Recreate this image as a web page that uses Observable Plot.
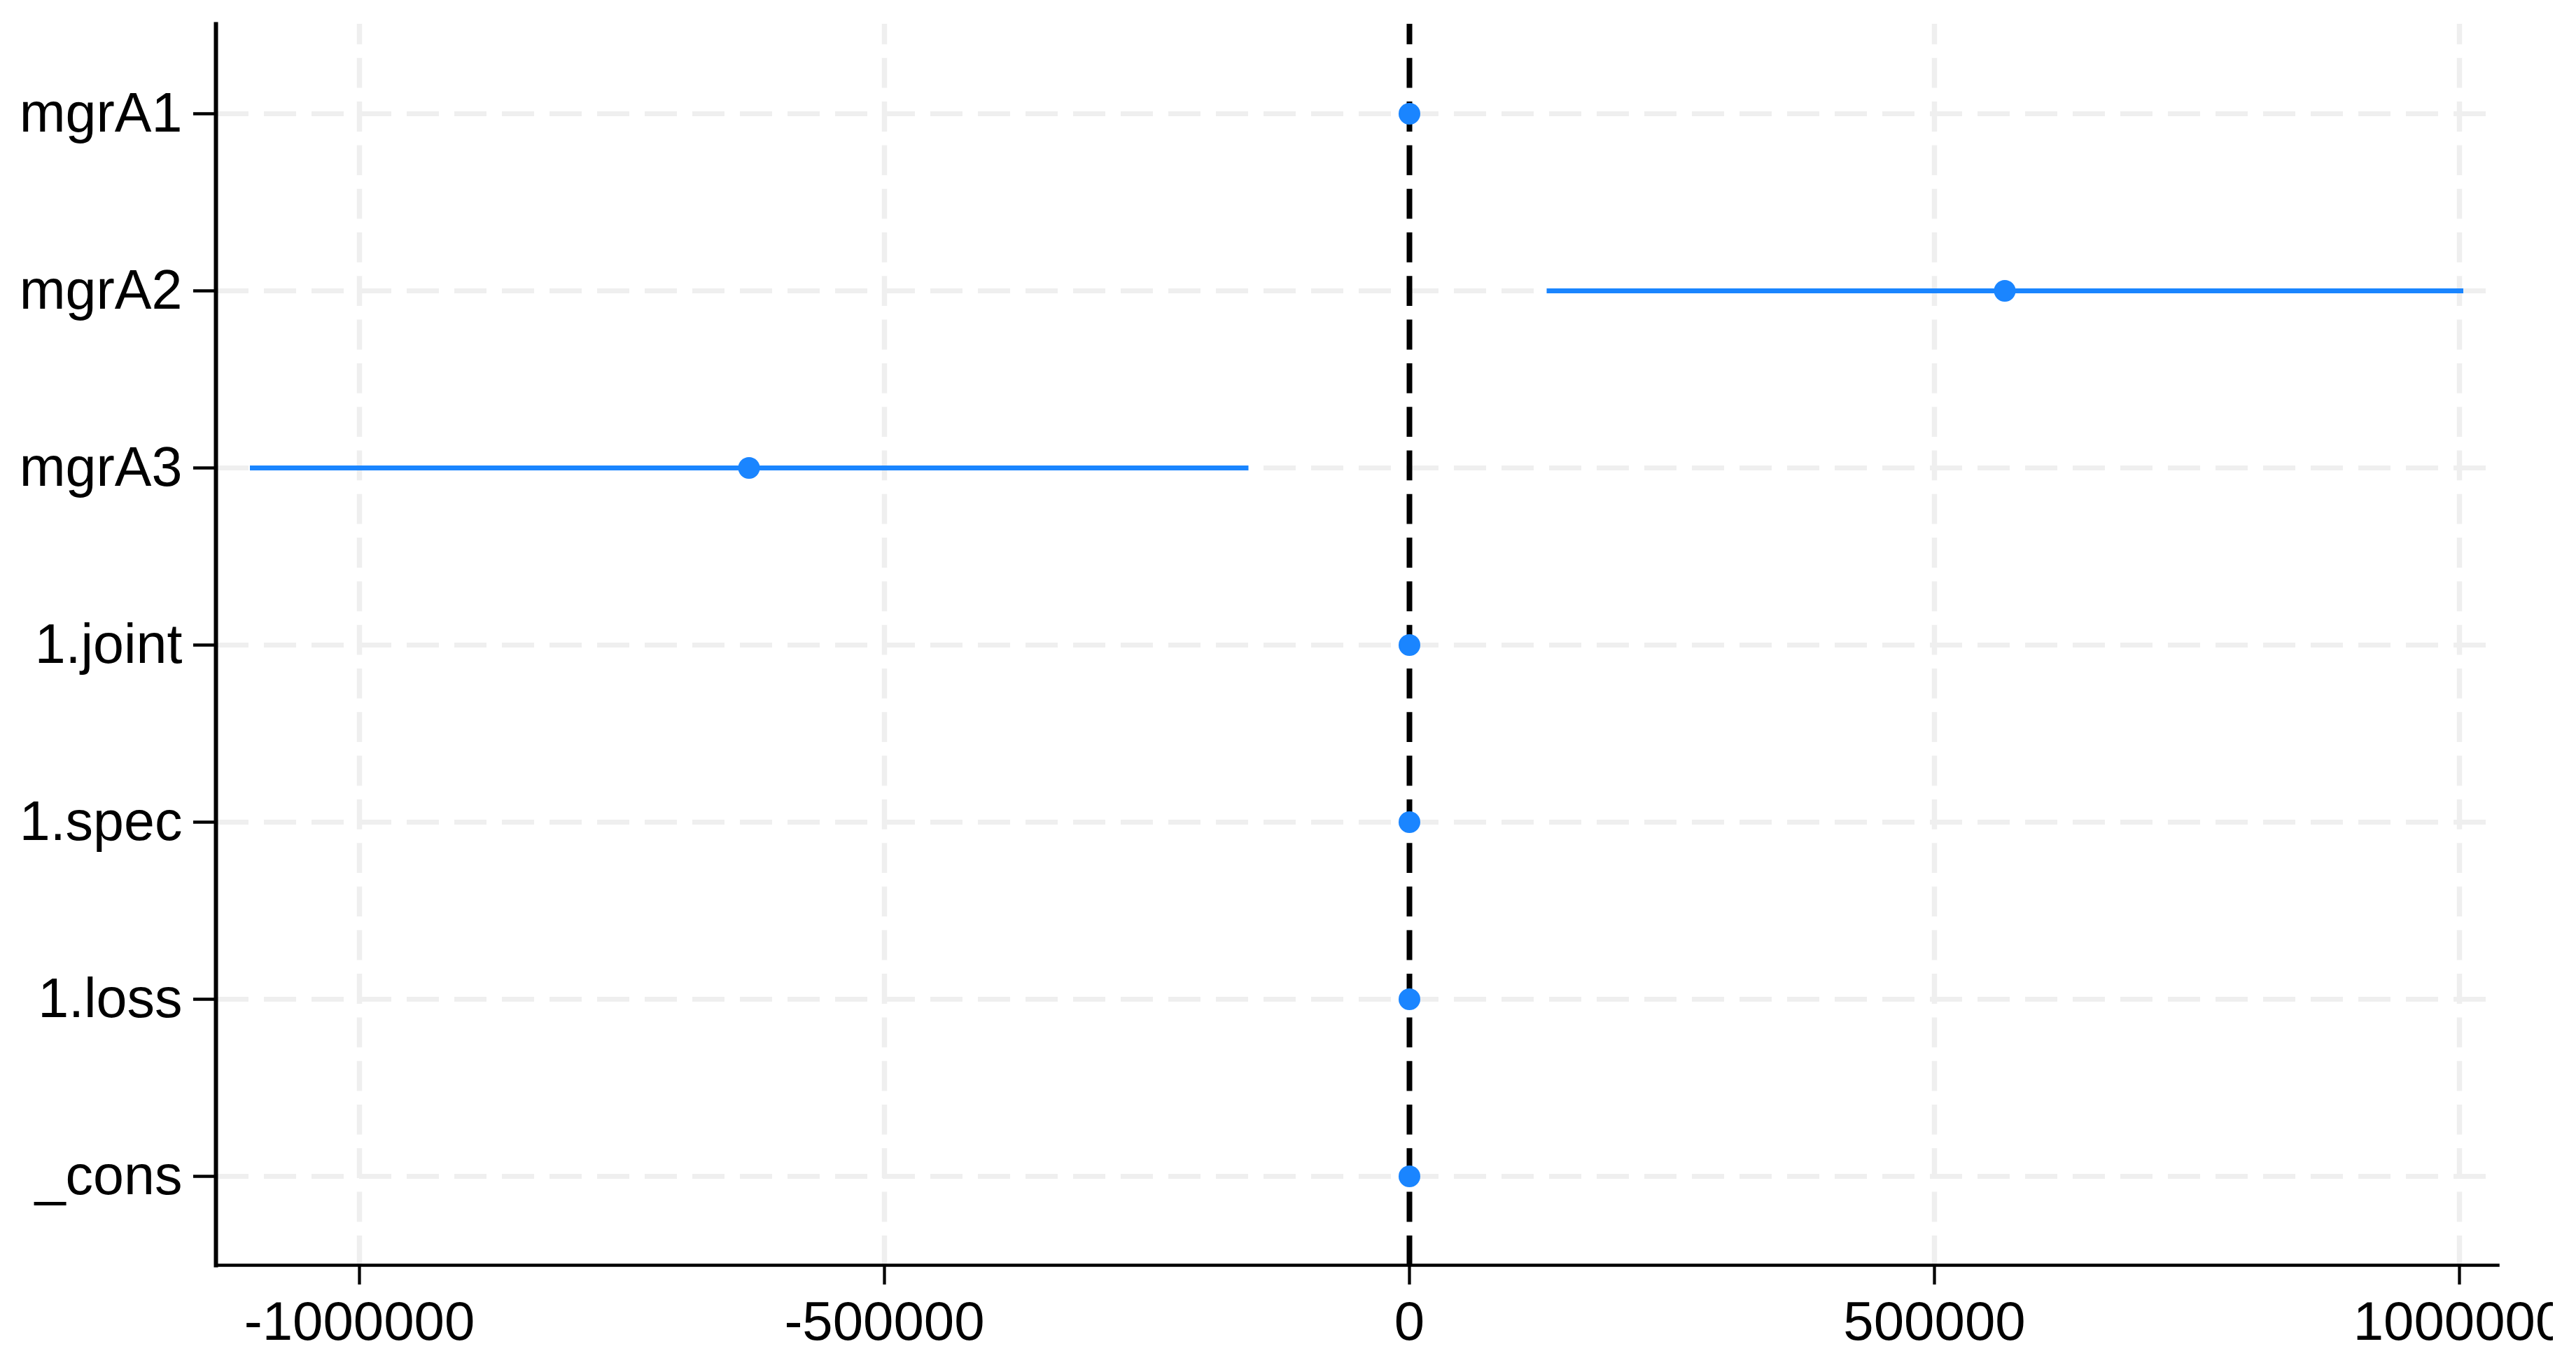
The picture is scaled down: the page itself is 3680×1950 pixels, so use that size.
<!DOCTYPE html>
<html>
<head>
<meta charset="utf-8">
<script src="https://cdn.jsdelivr.net/npm/d3@7"></script>
<script src="https://cdn.jsdelivr.net/npm/@observablehq/plot@0.6"></script>
<style>
  html, body { margin: 0; padding: 0; background: #ffffff; }
  #chart svg { display: block; }
</style>
</head>
<body>
<div id="chart"></div>
<script>
// Coefficient plot data
const terms = ["mgrA1", "mgrA2", "mgrA3", "1.joint", "1.spec", "1.loss", "_cons"];
const coef  = [0, 567000, -629000, 0, 0, 0, 0];
const ciLow = [0, 131000, -1104000, 0, 0, 0, 0];
const ciHigh = [0, 1004000, -153000, 0, 0, 0, 0];
const xTicks = [-1000000, -500000, 0, 500000, 1000000];
const xGridTicks = [-1000000, -500000, 500000, 1000000];
const xDomain = [-1136667, 1036667];

const rows = terms.map((t, i) => ({term: t, coef: coef[i], lo: ciLow[i], hi: ciHigh[i]}));

const blue = "#1a85ff";
const gridColor = "#efefef";

const chart = Plot.plot({
  width: 3647,
  height: 1950,
  marginLeft: 308,
  marginRight: 79,
  marginTop: 34,
  marginBottom: 143,
  style: {fontFamily: "'Liberation Sans', Arial, sans-serif", background: "#ffffff", color: "#000000"},
  x: {domain: xDomain, label: null},
  y: {type: "point", domain: terms, padding: 0.5, label: null},
  marks: [
    Plot.gridX(xGridTicks, {stroke: gridColor, strokeOpacity: 1, strokeWidth: 7.5, strokeDasharray: "42.8,19.5", strokeDashoffset: 13.5}),
    Plot.gridY(terms, {stroke: gridColor, strokeOpacity: 1, strokeWidth: 7, strokeDasharray: "46,22", strokeDashoffset: -1}),
    Plot.ruleX([0], {stroke: "#000000", strokeWidth: 8, strokeDasharray: "42.8,19.5", strokeDashoffset: 13.5}),
    Plot.ruleY(rows, {y: "term", x1: "lo", x2: "hi", stroke: blue, strokeWidth: 7}),
    Plot.dot(rows, {y: "term", x: "coef", r: 15.5, fill: blue, stroke: null}),
    Plot.axisX({ticks: xTicks, tickSize: 28, tickPadding: 23, strokeWidth: 4.3, fontSize: 78, tickFormat: d => String(d), label: null}),
    Plot.axisY({tickSize: 32, tickPadding: 16, strokeWidth: 4.5, fontSize: 79, label: null}),
    Plot.frame({anchor: "bottom", stroke: "#000000", strokeWidth: 4.5}),
    Plot.frame({anchor: "left", stroke: "#000000", strokeWidth: 6})
  ]
});

document.getElementById("chart").appendChild(chart);
</script>
</body>
</html>
